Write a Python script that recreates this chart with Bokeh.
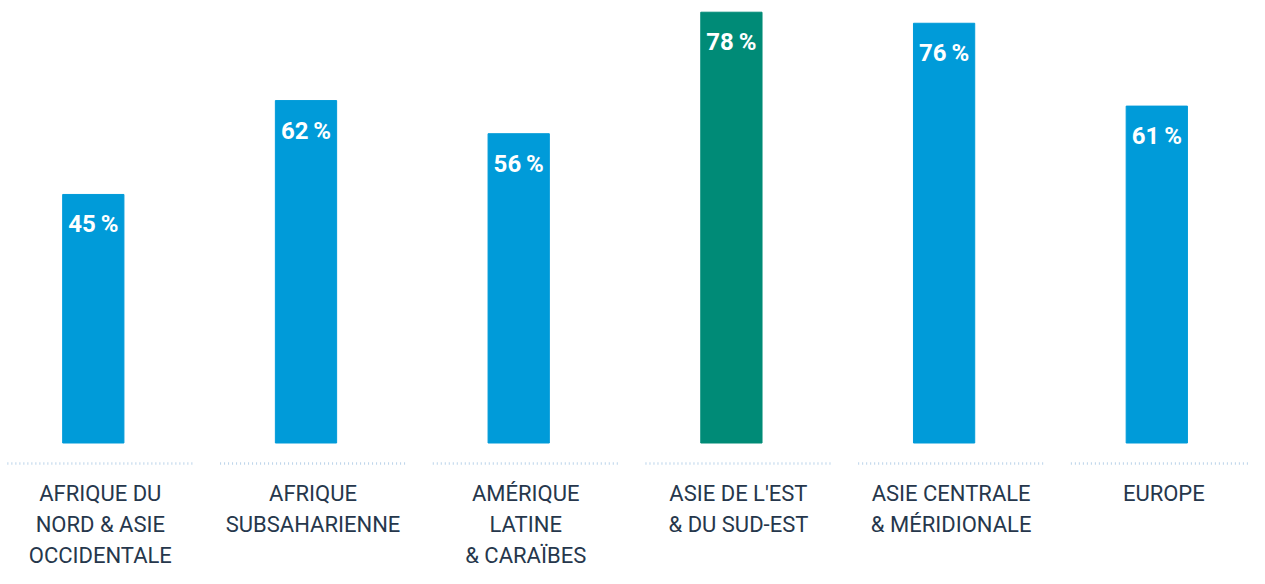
from bokeh.plotting import figure
from bokeh.models import ColumnDataSource, Range1d
from bokeh.core.properties import value
from bokeh.embed import file_html
from bokeh.resources import INLINE

categories = ["AFRIQUE DU\nNORD & ASIE\nOCCIDENTALE", "AFRIQUE\nSUBSAHARIENNE",
              "AMÉRIQUE\nLATINE\n& CARAÏBES", "ASIE DE L'EST\n& DU SUD-EST",
              "ASIE CENTRALE\n& MÉRIDIONALE", "EUROPE"]
values = [45, 62, 56, 78, 76, 61]
highlight = [False, False, False, True, False, False]

BLUE = "#009bd9"
GREEN = "#008b77"

idx = list(range(len(values)))
colors = [GREEN if h else BLUE for h in highlight]
src = ColumnDataSource(dict(x=idx, top=values, color=colors,
                            label=[f"{v}\u2009%" for v in values]))

W, H = 1249, 568
PX = 5.523          # pixels per percentage point
ZERO = 442.5        # pixel row of the baseline
STEP = 212.7        # pixels between categories
FIRST = 92.8        # pixel column of the first bar centre

p = figure(width=W, height=H, output_backend="svg", toolbar_location=None,
           min_border=0, min_border_left=0, min_border_right=0,
           min_border_top=0, min_border_bottom=0)
p.x_range = Range1d(-FIRST / STEP, (W - FIRST) / STEP)
p.y_range = Range1d(-(H - ZERO) / PX, ZERO / PX)
p.axis.visible = False
p.grid.visible = False
p.outline_line_color = None
p.background_fill_color = "white"
p.border_fill_color = "white"

p.vbar(x="x", top="top", bottom=0, width=0.288, color="color", source=src)

p.text(x="x", y="top", text="label", source=src, y_offset=30,
       text_align="center", text_baseline="middle", text_color="white",
       text_font=value("Roboto"), text_font_style="bold", text_font_size="24px")

# dotted separators under each category
ysep = -20.5 / PX
p.segment(x0=[i - 0.404 for i in idx], x1=[i + 0.469 for i in idx],
          y0=[ysep] * len(idx), y1=[ysep] * len(idx),
          line_color="#bcd4ea", line_width=2.5, line_dash="1 3")

# category labels (multi-line)
for line_no in range(3):
    xs, ts = [], []
    for i, c in enumerate(categories):
        parts = c.split("\n")
        if line_no < len(parts):
            xs.append(i + 0.033)
            ts.append(parts[line_no])
    p.text(x=xs, y=[0] * len(xs), text=ts, y_offset=50.6 + 31.1 * line_no,
           text_align="center", text_baseline="middle", text_color="#26374c",
           text_font=value("Roboto"), text_font_size="22px")

open("out.html", "w").write(file_html(p, INLINE))
